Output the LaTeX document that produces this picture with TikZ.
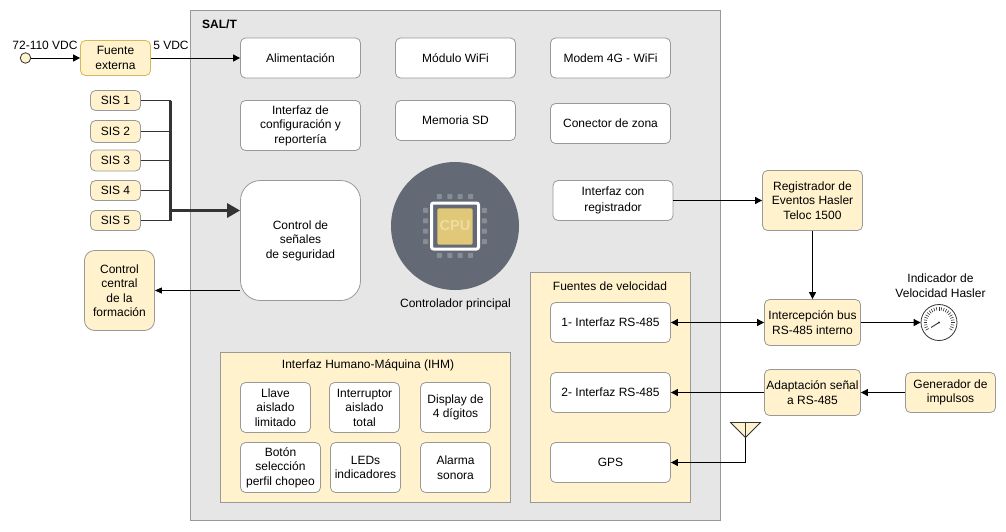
\documentclass[tikz,border=0pt]{standalone}
\usepackage{fontspec}
\setmainfont{Liberation Sans}
\usetikzlibrary{arrows.meta,calc}
\definecolor{yel}{HTML}{FFF2CC}
\definecolor{yelb}{HTML}{D6B656}
\definecolor{gry}{HTML}{999999}
\definecolor{panel}{HTML}{E6E6E6}
\definecolor{dark}{HTML}{333333}
\definecolor{cpu}{HTML}{646A75}
\definecolor{chip}{HTML}{E0C878}
\definecolor{padc}{HTML}{878C95}
\definecolor{cput}{HTML}{EDDDA0}
\tikzset{
  x=1pt,y=-1pt,
  txt/.style={font=\fontsize{12}{14.5}\selectfont,align=center,text=black,inner sep=0pt},
  box/.style={txt,draw=gry,line width=0.8pt,rounded corners=5pt,minimum width=#1,anchor=center},
  wbox/.style={box=#1,fill=white},
  ybox/.style={box=#1,fill=yel},
  conn/.style={draw=black,line width=0.9pt,-{Triangle[length=7pt,width=7pt]}},
  bconn/.style={draw=black,line width=0.9pt,{Triangle[length=7pt,width=7pt]}-{Triangle[length=7pt,width=7pt]}},
  plain/.style={draw=dark,line width=1pt},
  pad/.style={fill=padc,rounded corners=0.6pt},
}
\begin{document}
\begin{tikzpicture}
\useasboundingbox (0,0) rectangle (1006,531);
\fill[white] (0,0) rectangle (1006,531);
% main panels
\node[draw=gry,fill=panel,line width=0.8pt,minimum width=530,minimum height=510,inner sep=0pt] (salt) at (455.5,265.5) {};
\node[txt,anchor=west,font=\fontsize{12}{14}\selectfont\bfseries] (saltl) at (202,24) {SAL/T};
\node[draw=gry,fill=yel,line width=0.8pt,minimum width=290,minimum height=150,inner sep=0pt] (ihm) at (365.5,427.5) {};
\node[txt] (ihml) at (368,365.5) {Interfaz Humano-Máquina (IHM)};
\node[draw=gry,fill=yel,line width=0.8pt,minimum width=160,minimum height=230,inner sep=0pt] (fv) at (610.5,387.5) {};
\node[txt] (fvl) at (610,286) {Fuentes de velocidad};
% source
\node[circle,draw=dark,fill=yel,line width=0.8pt,minimum size=10.5pt,inner sep=0pt] (src) at (25.5,58) {};
\node[txt] (srcl) at (45,45) {72-110 VDC};
\node[box=70,fill=yel,draw=yelb,minimum height=35] (fuente) at (115.5,58) {Fuente\\externa};
\node[txt] (v5) at (171,45) {5 VDC};
% top row
\node[wbox=120,minimum height=40] (ali) at (300.5,58) {Alimentación};
\node[wbox=120,minimum height=40] (wifi) at (455.5,58) {Módulo WiFi};
\node[wbox=120,minimum height=40] (modem) at (610.5,58) {Modem 4G - WiFi};
\node[wbox=120,minimum height=50] (conf) at (300.5,125.5) {Interfaz de\\configuración y\\reportería};
\node[wbox=120,minimum height=40] (sd) at (455.5,120.5) {Memoria SD};
\node[wbox=120,minimum height=40] (zona) at (610.5,123.5) {Conector de zona};
\node[wbox=120,minimum height=40,font=\fontsize{12}{15.5}\selectfont] (reg) at (613,200.5) {Interfaz con\\registrador};
\node[box=120,fill=white,rounded corners=20pt,minimum height=120] (seg) at (300.5,240.5) {Control de\\señales\\de seguridad};
% SIS
\node[ybox=50,minimum height=20] (s1) at (115.5,100.5) {SIS 1};
\node[ybox=50,minimum height=22] (s2) at (115.5,131.5) {SIS 2};
\node[ybox=50,minimum height=21] (s3) at (115.5,160.5) {SIS 3};
\node[ybox=50,minimum height=20] (s4) at (115.5,190.5) {SIS 4};
\node[ybox=50,minimum height=20] (s5) at (115.5,220.5) {SIS 5};
\coordinate (bt) at (170.5,100.5);
\coordinate (bb) at (170.5,220.5);
\coordinate (bm) at (170.5,210.5);
\node[box=70,fill=yel,rounded corners=10pt,minimum height=80] (cc) at (119.5,290.5) {Control\\central\\de la\\formación};
% CPU
\node[circle,fill=cpu,minimum size=128pt,inner sep=0pt] (cpuc) at (455,226) {};
\foreach \t in {-15.7,-5.2,5.2,15.7}{
  \fill[pad] ($(cpuc)+(\t-2.5,-32)$) rectangle ++(5,5);
  \fill[pad] ($(cpuc)+(\t-2.5,26.8)$) rectangle ++(5,5);
  \fill[pad] ($(cpuc)+(-32,\t-2.5)$) rectangle ++(5,5);
  \fill[pad] ($(cpuc)+(26.8,\t-2.5)$) rectangle ++(5,5);
}
\draw[white,line width=3pt,rounded corners=2pt] ($(cpuc)+(-23.5,-23)$) rectangle ($(cpuc)+(23.5,23)$);
\fill[chip,rounded corners=2pt] ($(cpuc)+(-17.7,-17.7)$) rectangle ($(cpuc)+(17.7,18.7)$);
\node[txt,text=cput,font=\fontsize{14.5}{15}\selectfont\bfseries] (cput) at (cpuc) {CPU};
\node[txt] (cpul) at (455.5,304) {Controlador principal};
% IHM
\node[wbox=70,minimum height=50] (h1) at (275.5,407.5) {Llave\\aislado\\limitado};
\node[wbox=70,minimum height=50] (h2) at (364.5,407.5) {Interruptor\\aislado\\total};
\node[wbox=70,minimum height=50] (h3) at (455.5,407.5) {Display de\\4 dígitos};
\node[wbox=80,minimum height=50] (h4) at (280.5,467.5) {Botón\\selección\\perfil chopeo};
\node[wbox=70,minimum height=50] (h5) at (365.5,467.5) {LEDs\\indicadores};
\node[wbox=70,minimum height=50] (h6) at (455.5,467.5) {Alarma\\sonora};
% velocity
\node[wbox=120,minimum height=40] (v1) at (610.5,322.5) {1- Interfaz RS-485};
\node[wbox=120,minimum height=40] (v2) at (610.5,392.5) {2- Interfaz RS-485};
\node[wbox=120,minimum height=40] (v3) at (610.5,462.5) {GPS};
% right
\node[ybox=100,minimum height=60] (hasler) at (812.5,200.5) {Registrador de\\Eventos Hasler\\Teloc 1500};
\node[ybox=96,minimum height=46] (int) at (812.5,322.5) {Intercepción bus\\RS-485 interno};
\node[ybox=96,minimum height=46] (ada) at (812.5,392.5) {Adaptación señal\\a RS-485};
\node[ybox=90,minimum height=40] (gen) at (950.5,392.5) {Generador de\\impulsos};
\node[txt] (indl) at (940.5,285.5) {Indicador de\\Velocidad Hasler};
% gauge
\node[circle,draw=dark,fill=white,line width=0.8pt,minimum size=36pt,inner sep=0pt] (ga) at (939,322.5) {};
\foreach \a in {-30,-20,...,210}{
  \draw[dark,line width=0.6pt] ($(ga.center)+(\a:-15.5)$) -- ($(ga.center)+(\a:-12)$);
}
\draw[dark,line width=0.9pt] ($(ga.center)+(-8,5)$) -- (ga.center);
\fill[dark] (ga.center) circle (1.2);
% antenna
\coordinate (a0) at (745.5,437.5);
\draw[draw=dark,fill=yel,line width=0.8pt] (730.5,422.5) -- (760.5,422.5) -- (a0) -- cycle;
\draw[plain,line width=0.8pt] (745.5,422.5) -- (a0);
% connectors
\draw[conn] (src) -- (fuente);
\draw[conn] (fuente) -- (ali);
\foreach \n in {s1,s2,s3,s4,s5}{\draw[plain] (\n.east) -- (\n.east -| bt);}
\draw[dark,line width=3pt,line cap=square] (bt) -- (bb);
\draw[dark,line width=3pt,-{Triangle[length=13pt,width=14pt]}] (bm) -- (seg.west |- bm);
\draw[conn,-{Triangle[length=7pt,width=6pt]}] (seg.west |- cc) -- (cc.east);
\draw[conn] (reg) -- (hasler);
\draw[conn] (hasler) -- (int);
\draw[bconn] (int) -- (v1);
\draw[conn] (int) -- (ga);
\draw[conn] (ada) -- (v2);
\draw[conn] (gen) -- (ada);
\draw[conn] (a0) |- (v3);
\end{tikzpicture}
\end{document}
